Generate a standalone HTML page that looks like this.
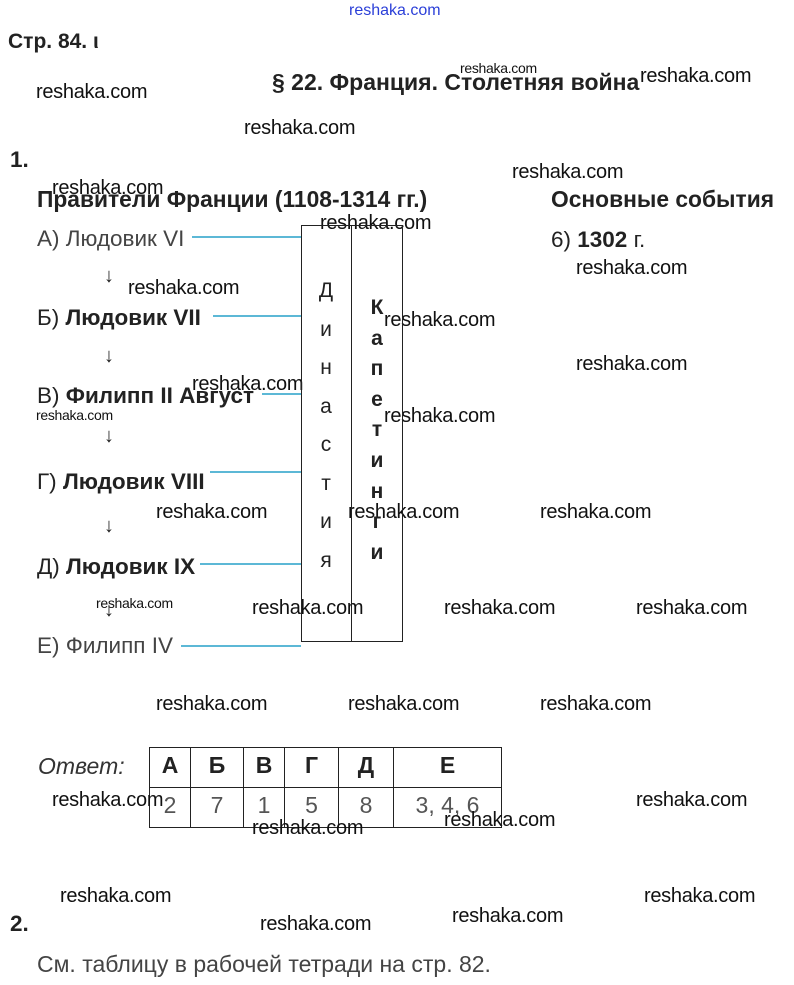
<!DOCTYPE html>
<html><head><meta charset="utf-8"><style>
body{margin:0;width:794px;height:985px;background:#fff;position:relative;overflow:hidden;font-family:"Liberation Sans",sans-serif;color:#222}
.t{position:absolute;white-space:nowrap;font-size:22.5px;line-height:1}
.w{position:absolute;white-space:nowrap;font-size:20px;line-height:1;color:#111;letter-spacing:-0.3px}
.b{font-weight:bold}
.ln{position:absolute;height:2px;background:#5cb8d6}
.ar{position:absolute;font-size:20px;line-height:1}
.v{position:absolute;font-size:21px;text-align:center;width:50px;line-height:38.5px}
table{position:absolute;left:149px;top:747px;border-collapse:collapse;font-size:23px}
td{border:1px solid #222;text-align:center;padding:0;height:40px;vertical-align:top;padding-top:4px;box-sizing:border-box}
</style></head><body>
<div class="t" style="left:349px;top:3px;font-size:16px;color:#2b3fd8">reshaka.com</div>
<div class="t b" style="left:8px;top:31px;font-size:21px">Стр. 84. ι</div>
<div class="t b" style="left:272px;top:71px;font-size:23px">§ 22. Франция. Столетняя война</div>
<div class="w" style="left:460px;top:61px;font-size:14px">reshaka.com</div>
<div class="w" style="left:640px;top:66px">reshaka.com</div>
<div class="w" style="left:36px;top:82px">reshaka.com</div>
<div class="w" style="left:244px;top:118px">reshaka.com</div>
<div class="t b" style="left:10px;top:149px">1.</div>
<div class="w" style="left:512px;top:162px">reshaka.com</div>
<div class="t b" style="left:37px;top:188px;font-size:22.8px">Правители Франции (1108-1314 гг.)</div>
<div class="w" style="left:52px;top:178px">reshaka.com</div>
<div class="t b" style="left:551px;top:188px;font-size:22.8px">Основные события</div>
<div class="w" style="left:320px;top:213px">reshaka.com</div>
<div class="t" style="left:551px;top:229px">6) <b>1302</b> г.</div>
<div class="w" style="left:576px;top:258px">reshaka.com</div>

<div class="t" style="left:37px;top:228px;color:#444">А) Людовик VI</div>
<div class="ln" style="left:192px;width:109px;top:236px"></div>
<div class="ar" style="left:104px;top:266px">↓</div>
<div class="w" style="left:128px;top:278px">reshaka.com</div>
<div class="t" style="left:37px;top:307px">Б) <b>Людовик VII</b></div>
<div class="ln" style="left:213px;width:88px;top:315px"></div>
<div class="w" style="left:384px;top:310px">reshaka.com</div>
<div class="ar" style="left:104px;top:346px">↓</div>
<div class="w" style="left:576px;top:354px">reshaka.com</div>
<div class="t" style="left:37px;top:385px">В) <b>Филипп II Август</b></div>
<div class="w" style="left:192px;top:374px">reshaka.com</div>
<div class="ln" style="left:262px;width:39px;top:393px"></div>
<div class="w" style="left:36px;top:408px;font-size:14px">reshaka.com</div>
<div class="w" style="left:384px;top:406px">reshaka.com</div>
<div class="ar" style="left:104px;top:426px">↓</div>
<div class="t" style="left:37px;top:471px">Г) <b>Людовик VIII</b></div>
<div class="ln" style="left:210px;width:91px;top:471px"></div>
<div class="w" style="left:156px;top:502px">reshaka.com</div>
<div class="w" style="left:348px;top:502px">reshaka.com</div>
<div class="w" style="left:540px;top:502px">reshaka.com</div>
<div class="ar" style="left:104px;top:516px">↓</div>
<div class="t" style="left:37px;top:556px">Д) <b>Людовик IX</b></div>
<div class="ln" style="left:200px;width:101px;top:563px"></div>
<div class="w" style="left:96px;top:596px;font-size:14px">reshaka.com</div>
<div class="ar" style="left:104px;top:600px">↓</div>
<div class="w" style="left:252px;top:598px">reshaka.com</div>
<div class="w" style="left:444px;top:598px">reshaka.com</div>
<div class="w" style="left:636px;top:598px">reshaka.com</div>
<div class="t" style="left:37px;top:635px;color:#444">Е) Филипп IV</div>
<div class="ln" style="left:181px;width:120px;top:645px"></div>

<div style="position:absolute;left:301px;top:225px;width:100px;height:415px;border:1px solid #222"></div>
<div style="position:absolute;left:351px;top:225px;width:1px;height:417px;background:#222"></div>
<div class="v" style="left:301px;top:272px">Д<br>и<br>н<br>а<br>с<br>т<br>и<br>я</div>
<div class="v b" style="left:352px;top:293px;line-height:30.6px">К<br>а<br>п<br>е<br>т<br>и<br>н<br>г<br>и</div>

<div class="w" style="left:156px;top:694px">reshaka.com</div>
<div class="w" style="left:348px;top:694px">reshaka.com</div>
<div class="w" style="left:540px;top:694px">reshaka.com</div>

<div class="t" style="left:38px;top:755px;font-style:italic;font-size:23px;color:#333">Ответ:</div>
<table>
<tr><td class="b" style="width:41px">А</td><td class="b" style="width:53px">Б</td><td class="b" style="width:41px">В</td><td class="b" style="width:54px">Г</td><td class="b" style="width:55px">Д</td><td class="b" style="width:108px">Е</td></tr>
<tr style="color:#555"><td>2</td><td>7</td><td>1</td><td>5</td><td>8</td><td>3, 4, 6</td></tr>
</table>
<div class="w" style="left:52px;top:790px">reshaka.com</div>
<div class="w" style="left:252px;top:818px">reshaka.com</div>
<div class="w" style="left:444px;top:810px">reshaka.com</div>
<div class="w" style="left:636px;top:790px">reshaka.com</div>
<div class="w" style="left:60px;top:886px">reshaka.com</div>
<div class="w" style="left:644px;top:886px">reshaka.com</div>
<div class="t b" style="left:10px;top:913px">2.</div>
<div class="w" style="left:260px;top:914px">reshaka.com</div>
<div class="w" style="left:452px;top:906px">reshaka.com</div>
<div class="t" style="left:37px;top:953px;color:#444;font-size:23px">См. таблицу в рабочей тетради на стр. 82.</div>
</body></html>
